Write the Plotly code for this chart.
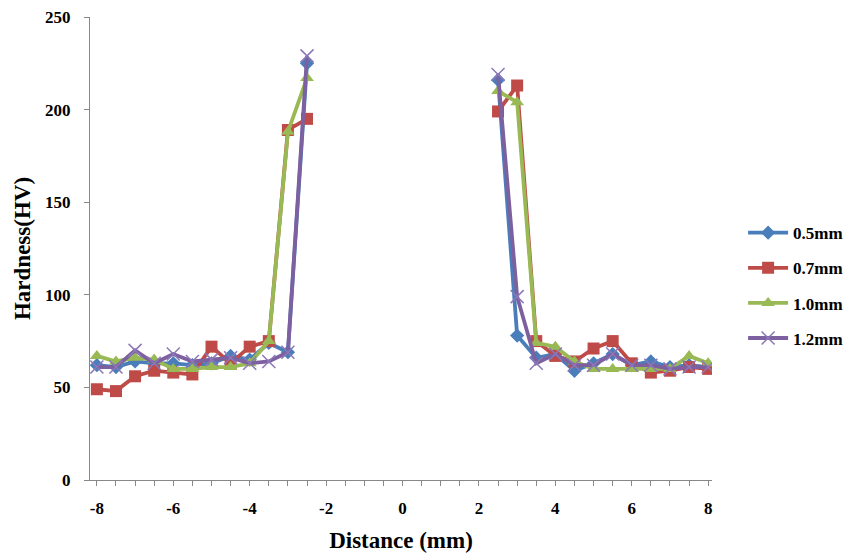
import plotly.graph_objects as go

# Measurement positions (mm from weld centre)
distance_left = [-8, -7.5, -7, -6.5, -6, -5.5, -5, -4.5, -4, -3.5, -3, -2.5]
distance_right = [2.5, 3, 3.5, 4, 4.5, 5, 5.5, 6, 6.5, 7, 7.5, 8]

series_names = ["0.5mm", "0.7mm", "1.0mm", "1.2mm"]

hv_05_left = [62, 61, 64, 63, 63, 62, 63, 67, 65, 74, 69, 225]
hv_05_right = [216, 78, 66, 68, 59, 63, 68, 62, 64, 61, 62, 61]

hv_07_left = [49, 48, 56, 59, 58, 57, 72, 63, 72, 75, 189, 195]
hv_07_right = [199, 213, 75, 67, 64, 71, 75, 63, 58, 59, 61, 60]

hv_10_left = [67, 64, 66, 65, 60, 60, 61, 61, 63, 75, 188, 217]
hv_10_right = [210, 204, 74, 72, 64, 60, 60, 60, 60, 60, 67, 63]

hv_12_left = [61, 61, 70, 63, 68, 64, 65, 66, 63, 64, 69, 229]
hv_12_right = [219, 99, 63, 68, 62, 62, 68, 62, 62, 60, 61, 61]

x_ticks = [-8, -6, -4, -2, 0, 2, 4, 6, 8]
y_ticks = [0, 50, 100, 150, 200, 250]

colors = ["#4A7EBB", "#BE4B48", "#98B954", "#7D60A0"]
symbols = ["diamond", "square", "triangle-up", "x-thin"]
sizes = [11, 12, 12, 13]

left_vals = [hv_05_left, hv_07_left, hv_10_left, hv_12_left]
right_vals = [hv_05_right, hv_07_right, hv_10_right, hv_12_right]

fig = go.Figure()
for name, c, s, sz, lv, rv in zip(series_names, colors, symbols, sizes, left_vals, right_vals):
    xs = distance_left + [None] + distance_right
    ys = lv + [None] + rv
    if s == "x-thin":
        marker = dict(symbol=s, size=sz, color=c, line=dict(color="#8C78B8", width=1.5))
    else:
        marker = dict(symbol=s, size=sz, color=c, line=dict(width=0))
    fig.add_trace(go.Scatter(
        x=xs, y=ys, name=name, legendgroup=name, mode="lines+markers",
        line=dict(color=c, width=3.8), marker=marker, connectgaps=False,
    ))

serif = "Liberation Serif, Times New Roman, serif"

fig.update_layout(
    width=860, height=555,
    margin=dict(l=90, r=148, t=17, b=75),
    paper_bgcolor="white", plot_bgcolor="white",
    font=dict(family=serif, color="black"),
    showlegend=True,
    legend=dict(
        x=1.05, y=0.572, xanchor="left", yanchor="top",
        font=dict(family=serif, size=17, color="black", weight="bold"),
        tracegroupgap=10, itemwidth=40,
        bgcolor="rgba(0,0,0,0)",
    ),
    xaxis=dict(
        range=[-8.18, 8.1], tickmode="array", tickvals=x_ticks,
        ticktext=[str(v) for v in x_ticks],
        automargin=False,
        showgrid=False, zeroline=False, showline=True,
        linecolor="#888888", linewidth=1,
        ticks="outside", ticklen=5, tickcolor="#888888",
        ticklabelstandoff=8,
        minor=dict(dtick=0.5, tick0=0, ticks="outside", ticklen=5, tickcolor="#888888"),
        tickfont=dict(family=serif, size=17, color="black", weight="bold"),
        title=dict(text="Distance (mm)", font=dict(family=serif, size=23, color="black", weight="bold"), standoff=14),
    ),
    yaxis=dict(
        range=[0, 250], tickmode="array", tickvals=y_ticks,
        automargin=False,
        showgrid=False, zeroline=False, showline=True,
        linecolor="#888888", linewidth=1,
        ticks="outside", ticklen=5, tickcolor="#888888",
        ticklabelstandoff=10,
        tickfont=dict(family=serif, size=17, color="black", weight="bold"),
        title=dict(text="Hardness(HV)", font=dict(family=serif, size=23, color="black", weight="bold"), standoff=8),
    ),
)

fig.write_html("out.html")
